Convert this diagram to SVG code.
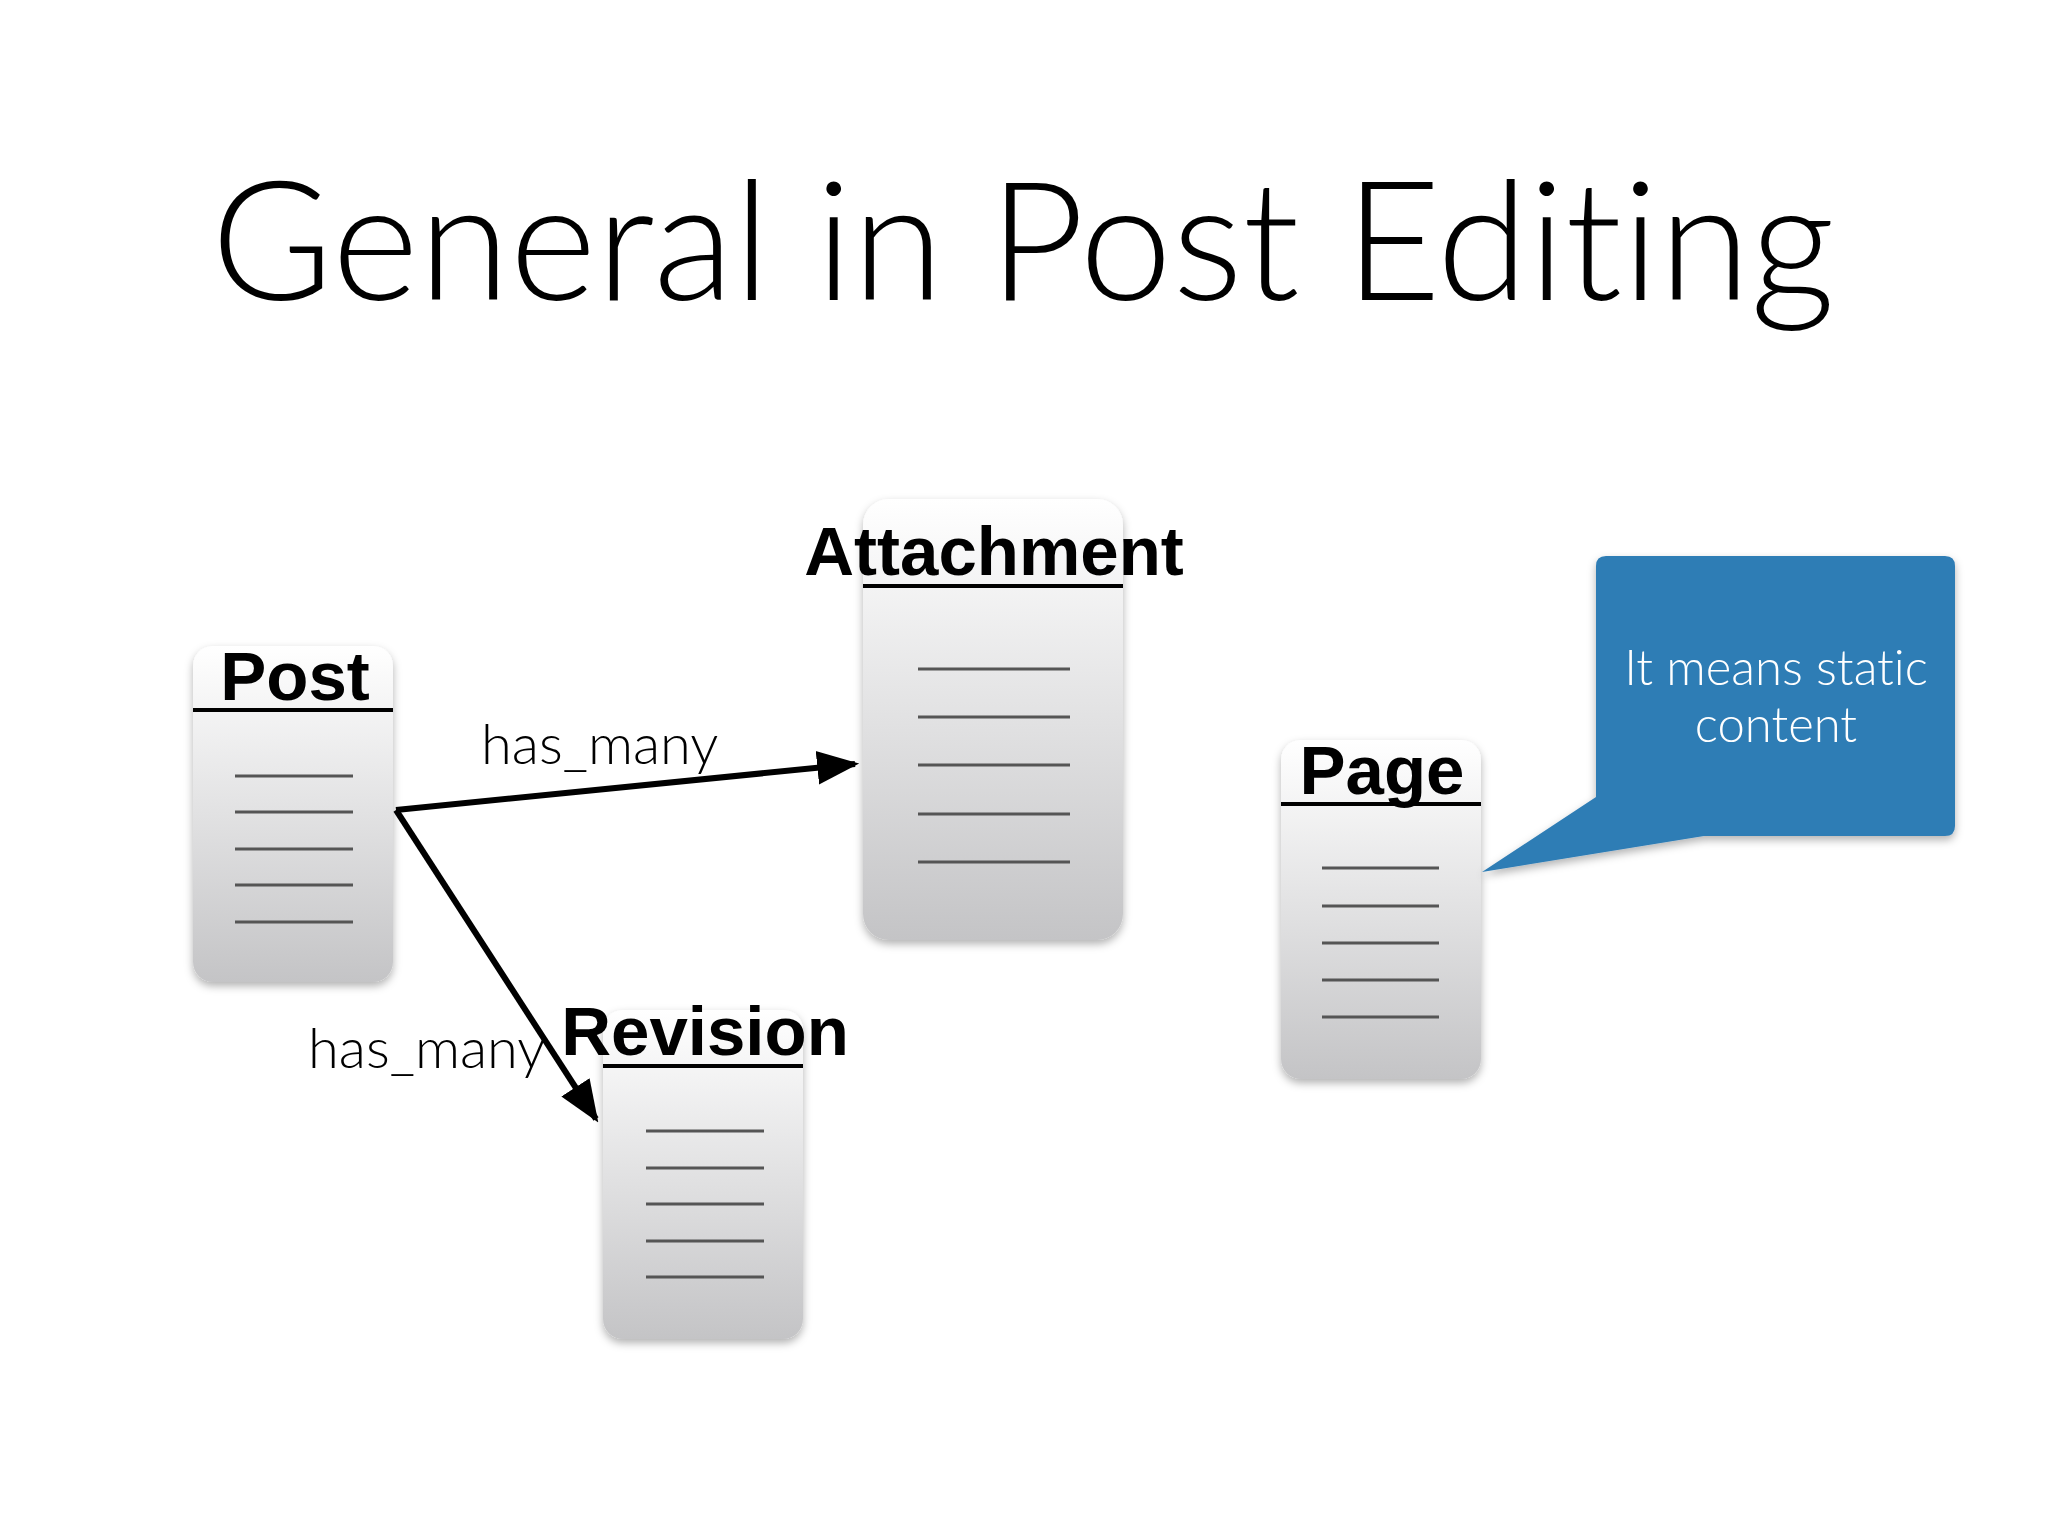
<svg xmlns="http://www.w3.org/2000/svg" width="2048" height="1536" viewBox="0 0 2048 1536">
<defs>
<linearGradient id="g" x1="0" y1="0" x2="0" y2="1"><stop offset="0" stop-color="#ffffff"/><stop offset="1" stop-color="#c4c4c6"/></linearGradient>
<filter id="sh" x="-20%" y="-20%" width="140%" height="140%"><feDropShadow dx="0" dy="4" stdDeviation="4" flood-color="#000" flood-opacity="0.3"/></filter>
<marker id="ah" viewBox="0 0 10 10" refX="9" refY="5" markerWidth="7" markerHeight="7" markerUnits="strokeWidth" orient="auto"><path d="M0,1 L10,5 L0,9 z" fill="#000"/></marker>
<style>
.box{fill:url(#g);filter:url(#sh)}
.hl{stroke:#000;stroke-width:4}
.ln{stroke:#555;stroke-width:3}
.lbl{font-family:"Liberation Sans",Arial,sans-serif;font-weight:bold;font-size:69px;text-anchor:middle;fill:#000}
.rel{font-family:Lato,"Open Sans",sans-serif;font-weight:300;font-size:56px;fill:#000}
.con{stroke:#000;stroke-width:6;fill:none}
</style>
</defs>
<rect width="2048" height="1536" fill="#fff"/>
<text x="1023" y="300" font-family="Lato,'Open Sans',sans-serif" font-weight="300" font-size="166" text-anchor="middle" fill="#000" style="font-variant-ligatures:none">General in Post Editing</text>
<g id="post"><rect class="box" x="193" y="646" width="200" height="336" rx="20"/><line class="hl" x1="193" y1="710" x2="393" y2="710"/><text class="lbl" x="295" y="700">Post</text>
<g class="ln"><line x1="235" y1="776" x2="353" y2="776"/><line x1="235" y1="812" x2="353" y2="812"/><line x1="235" y1="849" x2="353" y2="849"/><line x1="235" y1="885" x2="353" y2="885"/><line x1="235" y1="922" x2="353" y2="922"/></g></g>
<g id="attachment"><rect class="box" x="863" y="499" width="260" height="441" rx="26"/><line class="hl" x1="863" y1="586" x2="1123" y2="586"/><text class="lbl" x="994" y="575">Attachment</text>
<g class="ln"><line x1="918" y1="669" x2="1070" y2="669"/><line x1="918" y1="717" x2="1070" y2="717"/><line x1="918" y1="765" x2="1070" y2="765"/><line x1="918" y1="814" x2="1070" y2="814"/><line x1="918" y1="862" x2="1070" y2="862"/></g></g>
<g id="revision"><rect class="box" x="603" y="1010" width="200" height="329" rx="20"/><line class="hl" x1="603" y1="1066" x2="803" y2="1066"/><text class="lbl" x="705" y="1055">Revision</text>
<g class="ln"><line x1="646" y1="1131" x2="764" y2="1131"/><line x1="646" y1="1168" x2="764" y2="1168"/><line x1="646" y1="1204" x2="764" y2="1204"/><line x1="646" y1="1241" x2="764" y2="1241"/><line x1="646" y1="1277" x2="764" y2="1277"/></g></g>
<g id="page"><rect class="box" x="1281" y="740" width="200" height="339" rx="20"/><line class="hl" x1="1281" y1="804" x2="1481" y2="804"/><text class="lbl" x="1382" y="794">Page</text>
<g class="ln"><line x1="1322" y1="868" x2="1439" y2="868"/><line x1="1322" y1="906" x2="1439" y2="906"/><line x1="1322" y1="943" x2="1439" y2="943"/><line x1="1322" y1="980" x2="1439" y2="980"/><line x1="1322" y1="1017" x2="1439" y2="1017"/></g></g>
<g id="callout"><path d="M1606,556 H1945 Q1955,556 1955,566 V826 Q1955,836 1945,836 H1704 L1482,872 L1596,797 V566 Q1596,556 1606,556 Z" fill="#2f7db5" filter="url(#sh)"/>
<text font-family="Lato,'Open Sans',sans-serif" font-weight="300" font-size="49" fill="#fff" text-anchor="middle" style="font-variant-ligatures:none"><tspan x="1776" y="685">It means static</tspan><tspan x="1776" y="742">content</tspan></text></g>
<g id="connectors">
<line class="con" x1="396" y1="810" x2="855" y2="764" marker-end="url(#ah)"/>
<line class="con" x1="396" y1="810" x2="596" y2="1119" marker-end="url(#ah)"/>
<text class="rel" x="481" y="764">has_many</text>
<text class="rel" x="308" y="1068">has_many</text>
</g>
</svg>
